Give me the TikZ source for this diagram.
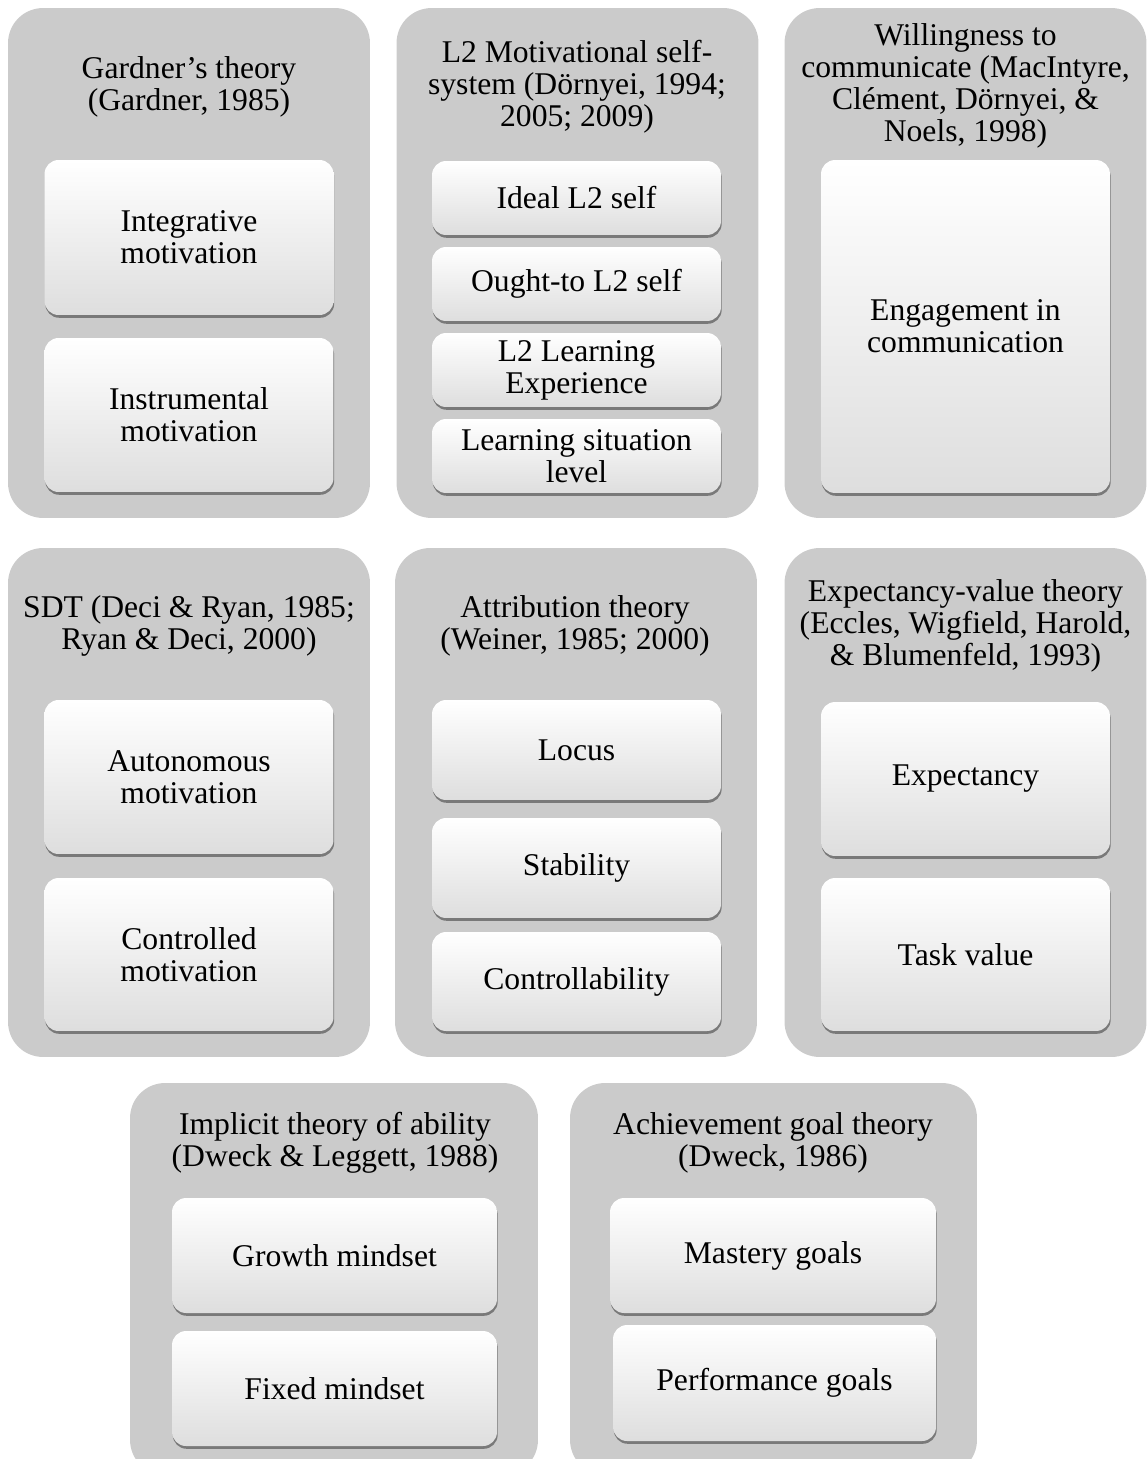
\documentclass[tikz,border=0pt]{standalone}
\usepackage{fontspec}
\setmainfont{Liberation Serif}
\usepackage{xcolor}
\usetikzlibrary{positioning,shadows}
\definecolor{panelgray}{HTML}{CBCBCB}

\begin{document}
\begin{tikzpicture}[
    x=0.02cm, y=-0.02cm,
    every node/.style={font=\fontsize{18}{18.3}\selectfont, align=center},
    panel/.style={fill=panelgray, rounded corners=0.7cm, inner sep=0pt, minimum width=7.24cm},
    title/.style={inner sep=0pt},
    item/.style={rounded corners=0.28cm, inner sep=2pt, minimum width=5.78cm,
      top color=white, middle color=white!98!black, bottom color=black!13,
      drop shadow={shadow xshift=0.4pt, shadow yshift=-1.6pt, opacity=0.4, fill=black}}
  ]
    \clip (0,0) rectangle (1148,1459);

    %------------------ Row 1 ------------------%
    \node[panel, minimum height=10.2cm] (gard) at (189,263) {};
    \node[title] (gardt) at (189,87) {Gardner’s theory\\(Gardner, 1985)};
    \node[item, minimum height=3.1cm] (integ) at (189,237.5) {Integrative\\motivation};
    \node[item, minimum height=3.08cm] (instr) at (189,415) {Instrumental\\motivation};

    \node[panel, minimum height=10.2cm] (lmss) at (577.5,263) {};
    \node[title] (lmsst) at (577,87) {L2 Motivational self-\\system (Dörnyei, 1994;\\2005; 2009)};
    \node[item, minimum height=1.48cm] (ideal) at (576.5,198) {Ideal L2 self};
    \node[item, minimum height=1.48cm] (ought) at (576.5,284) {Ought-to L2 self};
    \node[item, minimum height=1.48cm] (lexp) at (576.5,370) {L2 Learning\\Experience};
    \node[item, minimum height=1.48cm] (lsit) at (576.5,456) {Learning situation\\level};

    \node[panel, minimum height=10.2cm] (wtc) at (965.5,263) {};
    \node[title] (wtct) at (965.5,86) {Willingness to\\communicate (MacIntyre,\\Clément, Dörnyei, \&\\Noels, 1998)};
    \node[item, minimum height=6.66cm] (engag) at (965.5,326.5) {Engagement in\\communication};

    %------------------ Row 2 ------------------%
    \node[panel, minimum height=10.18cm] (sdt) at (189,802.5) {};
    \node[title] (sdtt) at (189,626) {SDT (Deci \& Ryan, 1985;\\Ryan \& Deci, 2000)};
    \node[item, minimum height=3.08cm] (auto) at (189,777) {Autonomous\\motivation};
    \node[item, minimum height=3.06cm] (contr) at (189,954.5) {Controlled\\motivation};

    \node[panel, minimum height=10.18cm] (attr) at (576,802.5) {};
    \node[title] (attrt) at (575,626) {Attribution theory\\(Weiner, 1985; 2000)};
    \node[item, minimum height=2.0cm] (locus) at (576.5,750) {Locus};
    \node[item, minimum height=2.0cm] (stab) at (576.5,868) {Stability};
    \node[item, minimum height=1.98cm] (ctrl) at (576.5,981.5) {Controllability};

    \node[panel, minimum height=10.18cm] (evt) at (965.5,802.5) {};
    \node[title] (evtt) at (965.5,626) {Expectancy-value theory\\(Eccles, Wigfield, Harold,\\\& Blumenfeld, 1993)};
    \node[item, minimum height=3.08cm] (expec) at (965.5,779) {Expectancy};
    \node[item, minimum height=3.06cm] (tval) at (965.5,954.5) {Task value};

    %------------------ Row 3 ------------------%
    \node[panel, minimum width=8.16cm, minimum height=7.84cm] (impl) at (334,1279) {};
    \node[title] (implt) at (335,1143) {Implicit theory of ability\\(Dweck \& Leggett, 1988)};
    \node[item, minimum width=6.5cm, minimum height=2.3cm] (grow) at (334.5,1255.5) {Growth mindset};
    \node[item, minimum width=6.5cm, minimum height=2.3cm] (fixed) at (334.5,1388.5) {Fixed mindset};

    \node[panel, minimum width=8.14cm, minimum height=7.84cm] (agt) at (773.5,1279) {};
    \node[title] (agtt) at (773,1143) {Achievement goal theory\\(Dweck, 1986)};
    \node[item, minimum width=6.52cm, minimum height=2.3cm] (mast) at (773,1255.5) {Mastery goals};
    \node[item, minimum width=6.46cm, minimum height=2.32cm] (perf) at (774.5,1383) {Performance goals};

\end{tikzpicture}
\end{document}
